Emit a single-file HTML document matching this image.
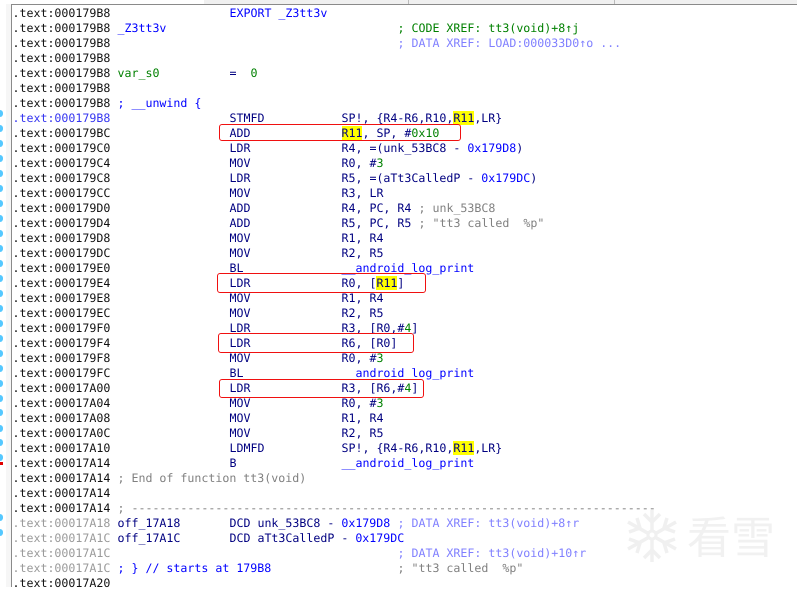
<!DOCTYPE html>
<html><head><meta charset="utf-8"><style>
html,body{margin:0;padding:0;background:#fff}
body{position:relative;width:797px;height:587px;overflow:hidden}
#t{position:absolute;left:12.5px;top:6px;width:785px;font:11.628px/15px "DejaVu Sans Mono","Liberation Mono",monospace;color:#111;text-rendering:geometricPrecision}
#t div{position:relative;height:15px;white-space:pre}
#t div span{position:absolute;top:0}
.l{left:105px}.m{left:217px;color:#000080}.o{left:329px;color:#000080}.c{left:385px}.k{left:406px;color:#808080}
.b{color:#00f}.g{color:#008000}.x{color:#8080ff}.y{color:#808080}.n{color:#000080}
.d{color:#9a9a9a}.a{color:#3535f0}
b{font-weight:normal;background:#ff0;}
.r{position:absolute;border:1.3px solid #f01010;border-radius:3px;box-sizing:border-box}
.p{position:absolute;left:0;width:3px;height:7px;border-radius:0 3px 3px 0;background:#55c8ff}
</style></head><body>
<div style="position:absolute;left:204px;top:0;width:593px;height:4px;background:#f0f0f0"></div>
<div style="position:absolute;left:408px;top:0;width:1px;height:4px;background:#bbb"></div>
<div style="position:absolute;left:614px;top:0;width:1px;height:4px;background:#bbb"></div>
<div style="position:absolute;left:11px;top:4px;width:786px;height:1px;background:#8a8a8a"></div>
<div style="position:absolute;left:11px;top:4px;width:1px;height:583px;background:#8a8a8a"></div>
<div style="position:absolute;left:6px;top:4px;width:5px;height:583px;background:#f6f6f6"></div>

<div class="p" style="top:110px"></div><div class="p" style="top:125px"></div><div class="p" style="top:140px"></div><div class="p" style="top:155px"></div><div class="p" style="top:170px"></div><div class="p" style="top:185px"></div><div class="p" style="top:200px"></div><div class="p" style="top:215px"></div><div class="p" style="top:230px"></div><div class="p" style="top:245px"></div><div class="p" style="top:260px"></div><div class="p" style="top:275px"></div><div class="p" style="top:290px"></div><div class="p" style="top:305px"></div><div class="p" style="top:320px"></div><div class="p" style="top:335px"></div><div class="p" style="top:350px"></div><div class="p" style="top:365px"></div><div class="p" style="top:380px"></div><div class="p" style="top:395px"></div><div class="p" style="top:409px"></div><div class="p" style="top:425px"></div><div class="p" style="top:439px"></div><div class="p" style="top:454px"></div>
<div style="position:absolute;left:0;top:462px;width:3px;height:3px;background:#e00000"></div>
<div class="p" style="top:514px"></div><div class="p" style="top:529px"></div>

<svg style="position:absolute;left:0;top:0" width="797" height="587">
<g stroke="#f0f0f0" stroke-width="3.5" fill="none">
<path d="M652 510V562M628 522L676 549M628 549L676 522"/>
<path d="M644 514L652 522L660 514M644 558L652 550L660 558M629 532L640 528L637 518M667 518L664 528L675 532M629 539L640 543L637 553M675 539L664 543L667 553"/>
</g>
<circle cx="652" cy="535" r="4" fill="#fff" stroke="#f0f0f0" stroke-width="3"/>
<text x="687" y="553" font-family="'Noto Sans CJK SC',sans-serif" font-size="44" fill="#f1f1f1">看雪</text>
</svg>

<div id="t">
<div>.text:000179B8<span class="m b">EXPORT _Z3tt3v</span></div>
<div>.text:000179B8<span class="l b">_Z3tt3v</span><span class="c g">; CODE XREF: tt3(void)+8↑j</span></div>
<div>.text:000179B8<span class="c x">; DATA XREF: LOAD:000033D0↑o ...</span></div>
<div>.text:000179B8</div>
<div>.text:000179B8<span class="l g">var_s0</span><span class="m">=  <i class="g" style="font-style:normal">0</i></span></div>
<div>.text:000179B8</div>
<div>.text:000179B8<span class="l b">; __unwind {</span></div>
<div><i class="a" style="font-style:normal">.text:000179B8</i><span class="m">STMFD</span><span class="o">SP!, {R4-R6,R10,<b>R11</b>,LR}</span></div>
<div>.text:000179BC<span class="m">ADD</span><span class="o"><b>R11</b>, SP, #<i class="g" style="font-style:normal">0x10</i></span></div>
<div>.text:000179C0<span class="m">LDR</span><span class="o">R4, =(unk_53BC8 - <i class="b" style="font-style:normal">0x179D8</i>)</span></div>
<div>.text:000179C4<span class="m">MOV</span><span class="o">R0, #<i class="g" style="font-style:normal">3</i></span></div>
<div>.text:000179C8<span class="m">LDR</span><span class="o">R5, =(aTt3CalledP - <i class="b" style="font-style:normal">0x179DC</i>)</span></div>
<div>.text:000179CC<span class="m">MOV</span><span class="o">R3, LR</span></div>
<div>.text:000179D0<span class="m">ADD</span><span class="o">R4, PC, R4</span><span class="k">; unk_53BC8</span></div>
<div>.text:000179D4<span class="m">ADD</span><span class="o">R5, PC, R5</span><span class="k">; "tt3 called  %p"</span></div>
<div>.text:000179D8<span class="m">MOV</span><span class="o">R1, R4</span></div>
<div>.text:000179DC<span class="m">MOV</span><span class="o">R2, R5</span></div>
<div>.text:000179E0<span class="m">BL</span><span class="o b">__android_log_print</span></div>
<div>.text:000179E4<span class="m">LDR</span><span class="o">R0, [<b>R11</b>]</span></div>
<div>.text:000179E8<span class="m">MOV</span><span class="o">R1, R4</span></div>
<div>.text:000179EC<span class="m">MOV</span><span class="o">R2, R5</span></div>
<div>.text:000179F0<span class="m">LDR</span><span class="o">R3, [R0,#<i class="g" style="font-style:normal">4</i>]</span></div>
<div>.text:000179F4<span class="m">LDR</span><span class="o">R6, [R0]</span></div>
<div>.text:000179F8<span class="m">MOV</span><span class="o">R0, #<i class="g" style="font-style:normal">3</i></span></div>
<div>.text:000179FC<span class="m">BL</span><span class="o b">__android_log_print</span></div>
<div>.text:00017A00<span class="m">LDR</span><span class="o">R3, [R6,#<i class="g" style="font-style:normal">4</i>]</span></div>
<div>.text:00017A04<span class="m">MOV</span><span class="o">R0, #<i class="g" style="font-style:normal">3</i></span></div>
<div>.text:00017A08<span class="m">MOV</span><span class="o">R1, R4</span></div>
<div>.text:00017A0C<span class="m">MOV</span><span class="o">R2, R5</span></div>
<div>.text:00017A10<span class="m">LDMFD</span><span class="o">SP!, {R4-R6,R10,<b>R11</b>,LR}</span></div>
<div>.text:00017A14<span class="m">B</span><span class="o b">__android_log_print</span></div>
<div>.text:00017A14<span class="l y">; End of function tt3(void)</span></div>
<div>.text:00017A14</div>
<div>.text:00017A14<span class="l y">; ---------------------------------------------------------------------------</span></div>
<div><i class="d" style="font-style:normal">.text:00017A18</i><span class="l n">off_17A18</span><span class="m">DCD unk_53BC8 - <i class="b" style="font-style:normal">0x179D8</i></span><span class="c x">; DATA XREF: tt3(void)+8↑r</span></div>
<div><i class="d" style="font-style:normal">.text:00017A1C</i><span class="l n">off_17A1C</span><span class="m">DCD aTt3CalledP - <i class="b" style="font-style:normal">0x179DC</i></span></div>
<div><i class="d" style="font-style:normal">.text:00017A1C</i><span class="c x">; DATA XREF: tt3(void)+10↑r</span></div>
<div><i class="d" style="font-style:normal">.text:00017A1C</i><span class="l b">; } // starts at 179B8</span><span class="c y">; "tt3 called  %p"</span></div>
<div>.text:00017A20</div>
</div>

<div class="r" style="left:219px;top:124px;width:242px;height:17px"></div>
<div class="r" style="left:217px;top:273px;width:209px;height:20px"></div>
<div class="r" style="left:218px;top:333px;width:196px;height:20px"></div>
<div class="r" style="left:219px;top:379px;width:205px;height:19px"></div>
</body></html>
